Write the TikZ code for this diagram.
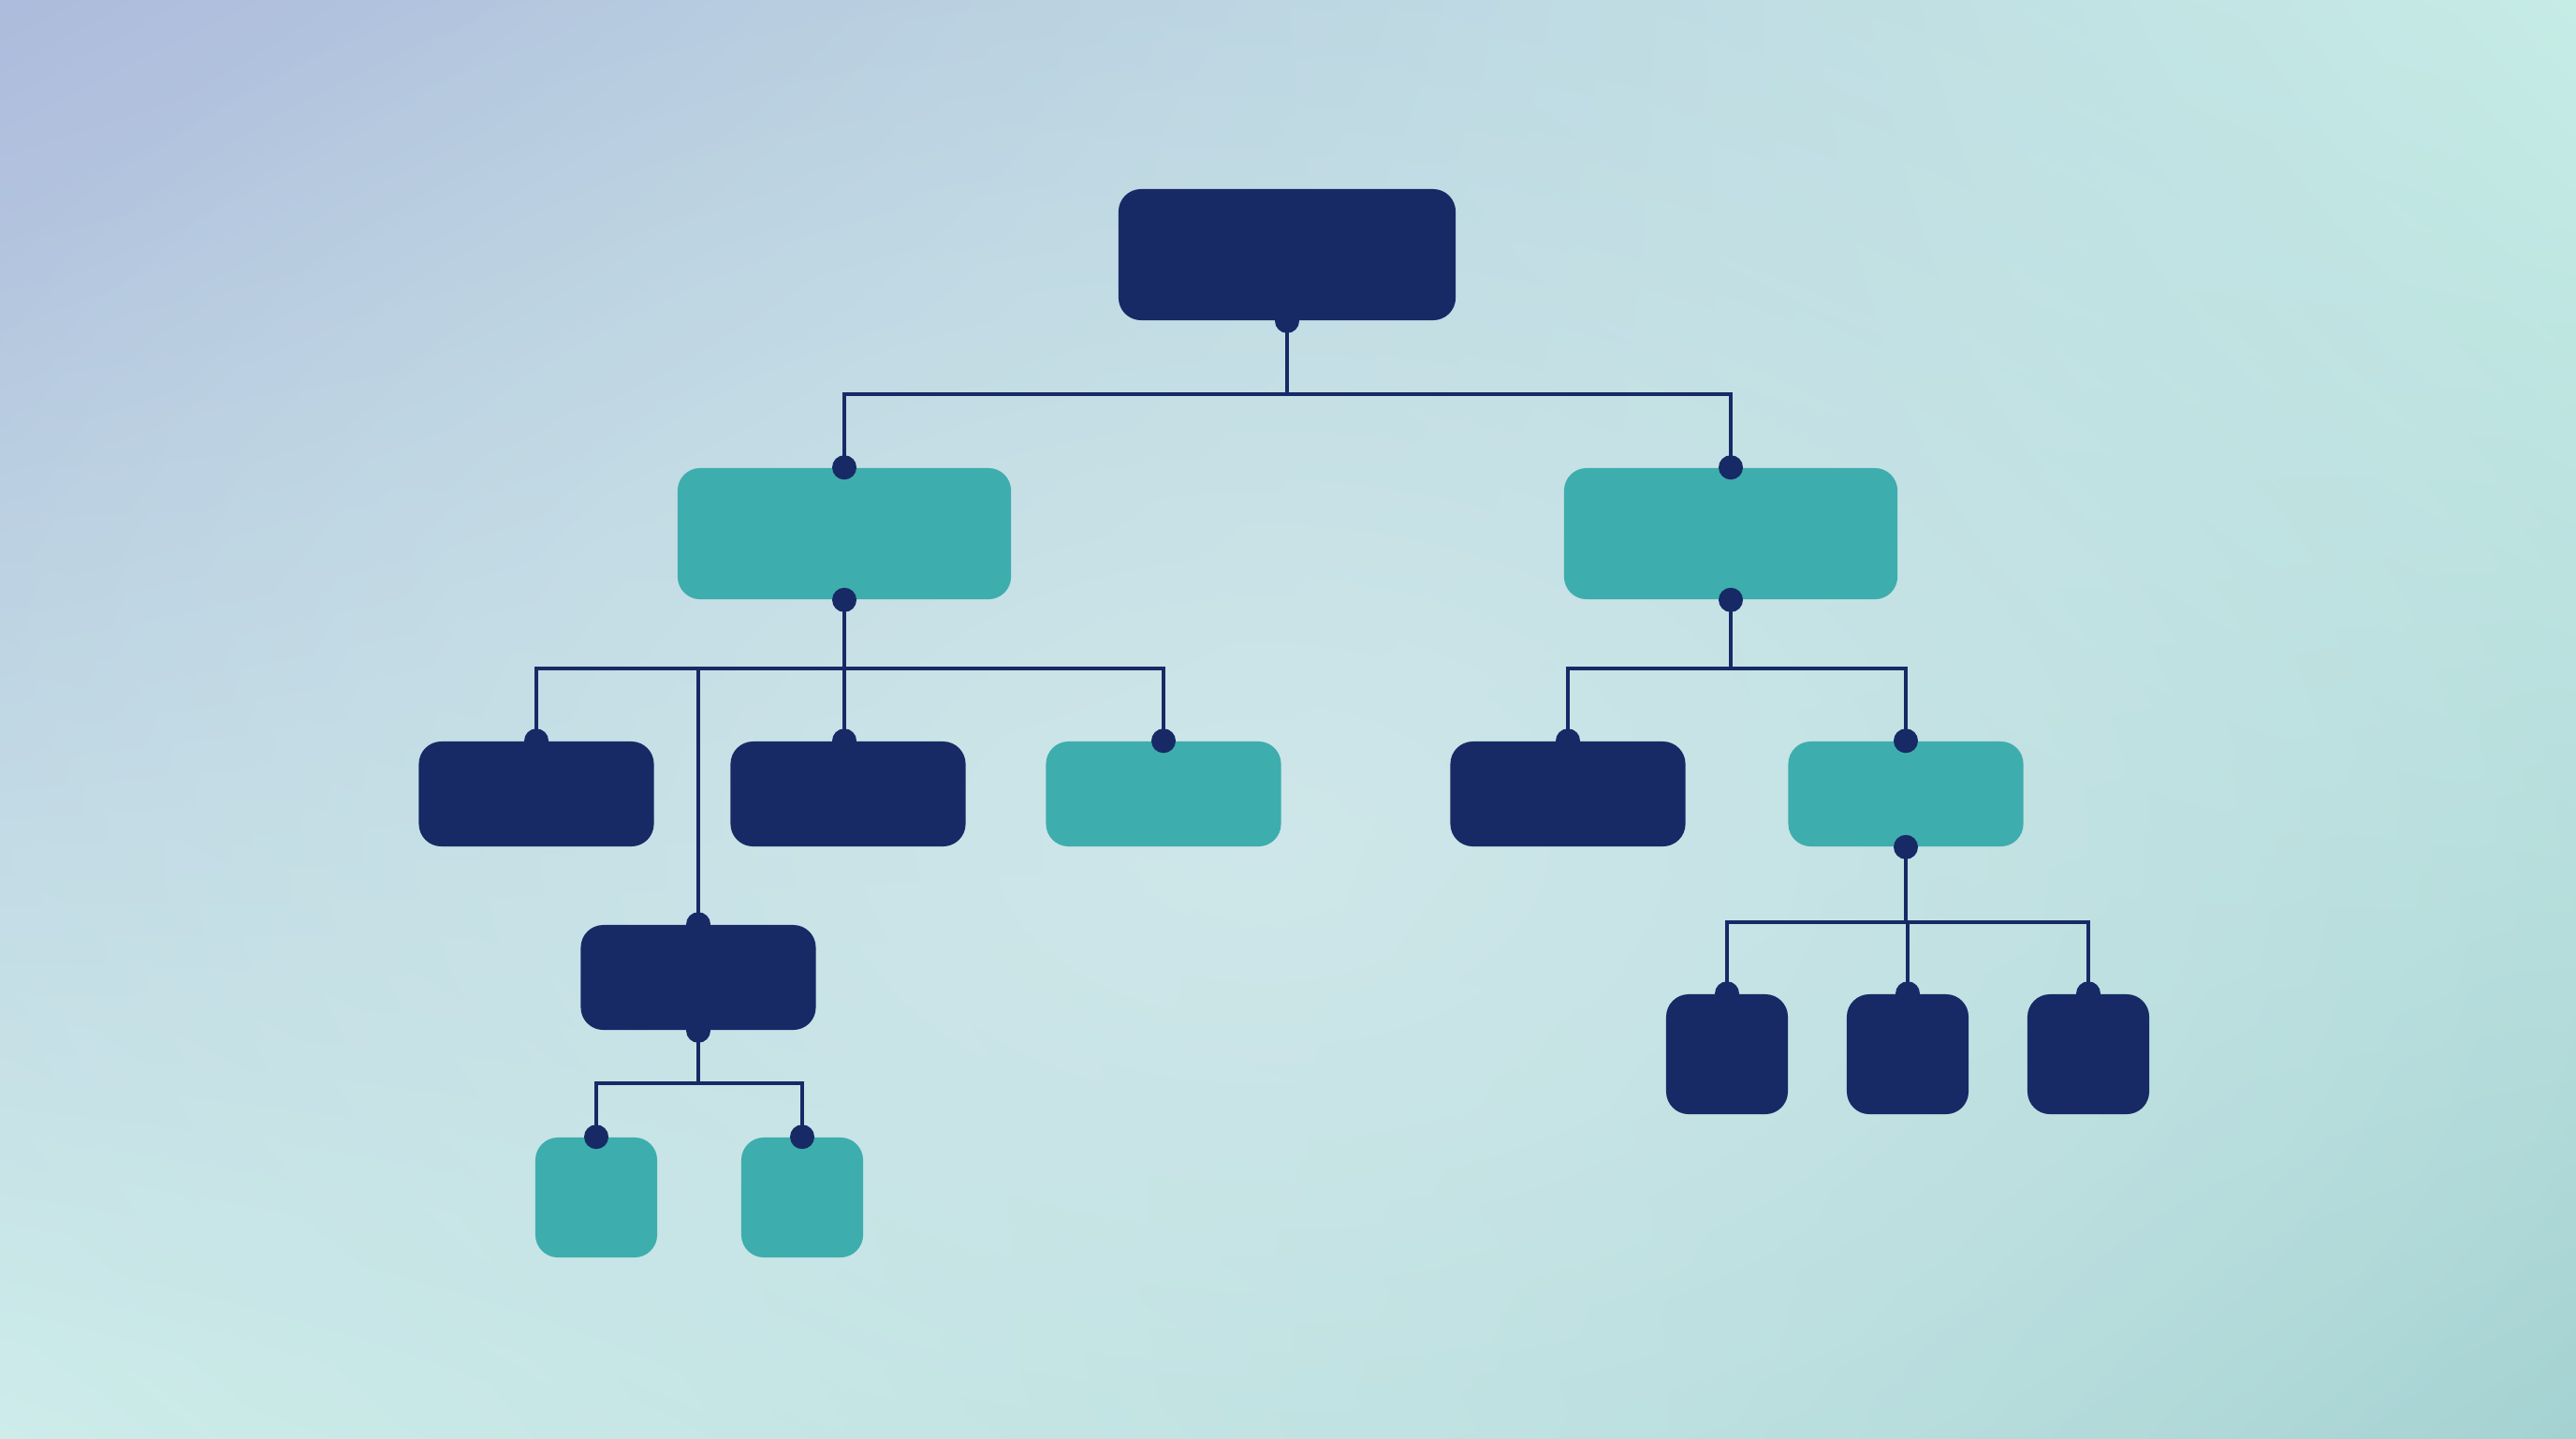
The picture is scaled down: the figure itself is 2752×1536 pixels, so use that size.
\documentclass[tikz,border=0pt]{standalone}
\usetikzlibrary{calc,shadings,fadings}
\definecolor{navy}{HTML}{172A66}
\definecolor{tealbox}{HTML}{3EADAD}
\definecolor{bgTL}{HTML}{ADBBDC}
\definecolor{bgTR}{HTML}{C6ECE6}
\definecolor{bgBL}{HTML}{CDEDEA}
\definecolor{bgBR}{HTML}{A4D2D2}
\definecolor{glow}{HTML}{D4EAEC}
\tikzfading[name=softglow, inner color=transparent!0, outer color=transparent!100]
\tikzset{
  box/.style={rectangle, rounded corners=0.24cm, inner sep=0pt, draw=none},
  navybox/.style={box, fill=navy},
  tealb/.style={box, fill=tealbox},
  big/.style={minimum width=3.56cm, minimum height=1.40cm},
  mid/.style={minimum width=2.51cm, minimum height=1.12cm},
  small/.style={minimum width=1.30cm, minimum height=1.28cm},
  conn/.style={draw=navy, line width=1.3pt},
  dotmark/.style={fill=navy}
}
\begin{document}
\begin{tikzpicture}[x=0.01cm, y=-0.01cm]
\useasboundingbox (0,0) rectangle (2752,1536);
\shade[upper left=bgTL, upper right=bgTR, lower left=bgBL, lower right=bgBR] (0,0) rectangle (2752,1536);
\fill[glow, path fading=softglow, fill opacity=0.8] (1350,900) ellipse (17cm and 11cm);

% nodes
\node[navybox, minimum width=3.60cm, minimum height=1.40cm] (root) at (1375,272) {};
\node[tealb, big] (la) at (902,570) {};
\node[tealb, big] (ra) at (1849,570) {};
\node[navybox, mid] (la1) at (573,848) {};
\node[navybox, mid] (la2) at (906,848) {};
\node[tealb, mid] (la3) at (1243,848) {};
\node[navybox, mid] (ra1) at (1675,848) {};
\node[tealb, mid] (ra2) at (2036,848) {};
\node[navybox, mid] (l3) at (746,1044) {};
\node[tealb, small] (lf1) at (637,1279) {};
\node[tealb, small] (lf2) at (857,1279) {};
\node[navybox, small] (rf1) at (1845,1126) {};
\node[navybox, small] (rf2) at (2038,1126) {};
\node[navybox, small] (rf3) at (2231,1126) {};

% bus coordinates
\coordinate (b0) at (1375,421);
\coordinate (b1) at (902,714);
\coordinate (b2) at (1849,714);
\coordinate (b3) at (2036,985);
\coordinate (b4) at (746,1157);
\coordinate (la2top) at (la2.north -| b1);

% connectors
\draw[conn] (root.south) -- (b0);
\draw[conn] (la.north) |- (b0) -| (ra.north);
\draw[conn] (la.south) -- (b1);
\draw[conn] (la1.north) |- (b1) -| (la3.north);
\draw[conn] (b1) -- (la2top);
\draw[conn] (l3.north) -- (l3.north |- b1);
\draw[conn] (ra.south) -- (b2);
\draw[conn] (ra1.north) |- (b2) -| (ra2.north);
\draw[conn] (ra2.south) -- (b3);
\draw[conn] (rf1.north) |- (b3) -| (rf3.north);
\draw[conn] (rf2.north) -- (rf2.north |- b3);
\draw[conn] (l3.south) -- (b4);
\draw[conn] (lf1.north) |- (b4) -| (lf2.north);

% dots
\foreach \p in {root.south, la.north, la.south, ra.north, ra.south,
  la1.north, la2top, la3.north, ra1.north, ra2.north, ra2.south,
  l3.north, l3.south, lf1.north, lf2.north, rf1.north, rf2.north, rf3.north}
  \fill[dotmark] (\p) circle (0.13cm);
\end{tikzpicture}
\end{document}
